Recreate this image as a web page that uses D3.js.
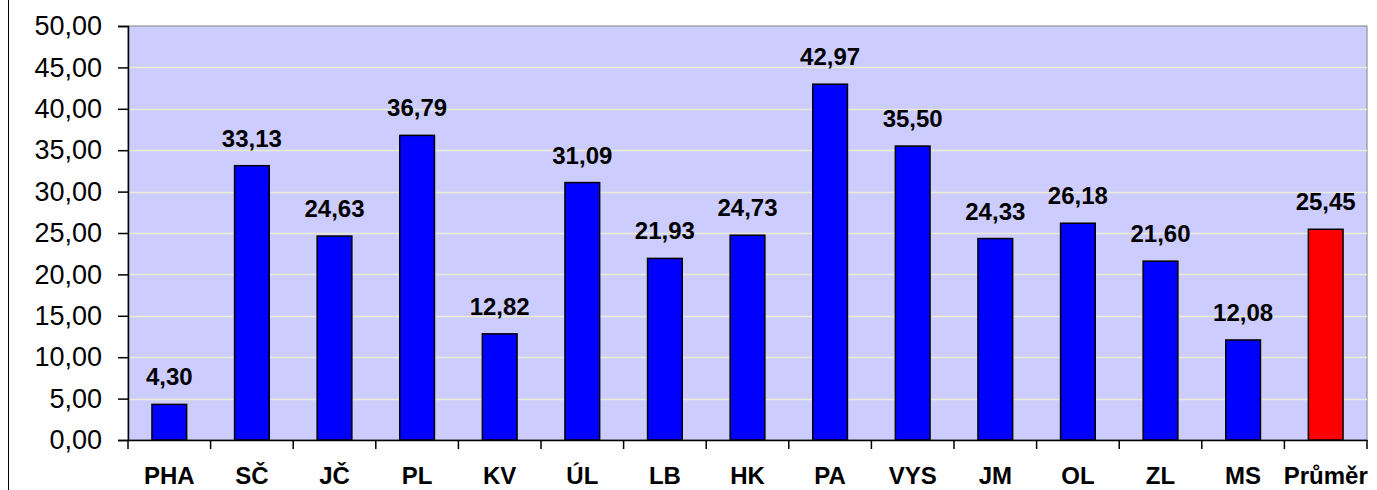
<!DOCTYPE html>
<html>
<head>
<meta charset="utf-8">
<script src="https://cdn.jsdelivr.net/npm/d3@7"></script>
<style>
	body { margin: 0; background: #fff; }
	svg { display: block; }
</style>
</head>
<body>
<svg id="chart" width="1377" height="490"></svg>
<script>
// kraje + průměr
var regions = ['PHA', 'SČ', 'JČ', 'PL', 'KV', 'ÚL', 'LB', 'HK', 'PA', 'VYS', 'JM', 'OL', 'ZL', 'MS', 'Průměr'];
var values = [4.30, 33.13, 24.63, 36.79, 12.82, 31.09, 21.93, 24.73, 42.97, 35.50, 24.33, 26.18, 21.60, 12.08, 25.45];
var yTicks = [0, 5, 10, 15, 20, 25, 30, 35, 40, 45, 50];

var svg = d3.select('#chart');
var margin = { left: 128, right: 10, top: 26, bottom: 50 };
var width = 1377, height = 490;
var font = 'Arial, "Liberation Sans", sans-serif';

var fmt = function(v){ return v.toFixed(2).replace('.', ','); };

var x = d3.scaleBand()
	.domain(regions)
	.range([margin.left, width - margin.right])
	.paddingInner(0.58)
	.paddingOuter(0.29);

var y = d3.scaleLinear()
	.domain([0, 50])
	.range([height - margin.bottom, margin.top]);

// outer border (only left edge is visible)
svg.append('line')
	.attr('x1', 8.5).attr('x2', 8.5)
	.attr('y1', 0).attr('y2', height)
	.attr('stroke', '#000').attr('stroke-width', 1);

// plot area
svg.append('rect')
	.attr('x', margin.left)
	.attr('y', margin.top)
	.attr('width', width - margin.right - margin.left)
	.attr('height', y(0) - margin.top)
	.attr('fill', '#ccccff')
	.attr('stroke', '#808080')
	.attr('stroke-width', 1);

// gridlines
svg.append('g')
	.selectAll('line')
	.data(yTicks.filter(function(d){ return d > 0 && d < 50; }))
	.join('line')
	.attr('x1', margin.left).attr('x2', width - margin.right)
	.attr('y1', function(d){ return Math.round(y(d)) + 0.5; })
	.attr('y2', function(d){ return Math.round(y(d)) + 0.5; })
	.attr('stroke', '#ebebd6')
	.attr('stroke-width', 1.5);

// bars
svg.append('g')
	.selectAll('rect')
	.data(values)
	.join('rect')
	.attr('x', function(d, i){ return x(regions[i]); })
	.attr('y', function(d){ return y(d); })
	.attr('width', x.bandwidth())
	.attr('height', function(d){ return y(0) - y(d); })
	.attr('fill', function(d, i){ return i === regions.length - 1 ? '#ff0000' : '#0000ff'; })
	.attr('stroke', '#000')
	.attr('stroke-width', 1.5);

// value labels
svg.append('g')
	.selectAll('text')
	.data(values)
	.join('text')
	.attr('x', function(d, i){ return x(regions[i]) + x.bandwidth() / 2; })
	.attr('y', function(d){ return y(d) - 19; })
	.attr('text-anchor', 'middle')
	.attr('font-family', font)
	.attr('font-weight', 'bold')
	.attr('font-size', 24)
	.text(fmt);

// y axis
var yAxis = svg.append('g')
	.attr('transform', 'translate(' + margin.left + ',0)')
	.call(d3.axisLeft(y).tickValues(yTicks).tickFormat(fmt).tickSize(10).tickPadding(16));
yAxis.select('.domain').attr('stroke', '#000').attr('stroke-width', 1.5);
yAxis.selectAll('.tick line').attr('stroke', '#000').attr('stroke-width', 1.5);
yAxis.selectAll('.tick text')
	.attr('font-family', font)
	.attr('font-size', 27)
	.attr('fill', '#000');

// x axis
var xAxis = svg.append('g')
	.attr('transform', 'translate(0,' + y(0) + ')')
	.call(d3.axisBottom(x).tickSize(0).tickPadding(27));
xAxis.select('.domain').attr('stroke', '#000').attr('stroke-width', 1.5);
xAxis.selectAll('.tick text')
	.attr('font-family', font)
	.attr('font-weight', 'bold')
	.attr('font-size', 24)
	.attr('fill', '#000');

// tick marks between categories
var step = x.step();
var bounds = d3.range(regions.length + 1).map(function(i){ return margin.left + i * step; });
svg.append('g')
	.selectAll('line')
	.data(bounds)
	.join('line')
	.attr('x1', function(d){ return d; }).attr('x2', function(d){ return d; })
	.attr('y1', y(0)).attr('y2', y(0) + 9)
	.attr('stroke', '#000')
	.attr('stroke-width', 1.5);
</script>
</body>
</html>
